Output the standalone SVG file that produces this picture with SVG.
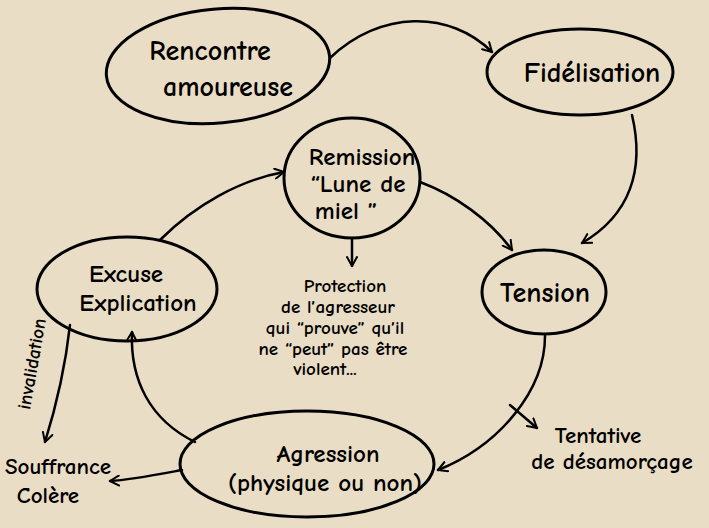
<svg xmlns="http://www.w3.org/2000/svg" width="709" height="528" viewBox="0 0 709 528">
<defs>
<marker id="ah" viewBox="0 0 12 12" refX="10" refY="6" markerWidth="12" markerHeight="12" markerUnits="userSpaceOnUse" orient="auto">
<path d="M1,1 L10,6 L1,11" fill="none" stroke="#000" stroke-width="2" stroke-linecap="round" stroke-linejoin="round"/>
</marker>
<style>
.n{fill:none;stroke:#000;stroke-width:3}
.c{fill:none;stroke:#000;stroke-width:2.5;stroke-linecap:round;marker-end:url(#ah)}
text{font-family:"Comic Neue","Liberation Sans","DejaVu Sans",sans-serif;fill:#000;text-anchor:middle;font-weight:bold}
.l{font-size:28px}
.m{font-size:25px}
.s{font-size:19px}
.t{font-size:23px}
</style>
</defs>
<rect width="709" height="528" fill="#e9ddc5"/>
<g id="connectors">
<path class="c" d="M330,58 C380,10 450,10 492,52"/>
<path class="c" d="M632,115 C645,170 630,215 582,243"/>
<path class="c" d="M420,182 C455,195 490,220 512,250"/>
<path class="c" d="M545,336 C545,390 500,445 438,470"/>
<path class="c" d="M510,405 L537,428"/>
<path class="c" d="M195,442 C150,420 130,380 132,332"/>
<path class="c" d="M160,240 C195,205 240,180 284,172"/>
<path class="c" d="M352,238 L352,266"/>
<path class="c" d="M70,325 C65,370 55,410 45,442"/>
<path class="c" d="M182,470 C150,476 130,480 110,481"/>
</g>
<g id="rencontre">
<ellipse class="n" cx="218" cy="66" rx="112" ry="57" transform="rotate(-5 218 66)"/>
<text class="l" x="210" y="60">Rencontre</text>
<text class="l" x="228" y="96">amoureuse</text>
</g>
<g id="fidelisation">
<ellipse class="n" cx="580" cy="72" rx="93" ry="43"/>
<text class="l" x="592" y="82">Fidélisation</text>
</g>
<g id="remission">
<ellipse class="n" cx="352" cy="178" rx="68" ry="60"/>
<text class="m" x="362" y="165">Remission</text>
<text class="m" x="358" y="192">“Lune de</text>
<text class="m" x="346" y="219">miel ”</text>
</g>
<g id="tension">
<ellipse class="n" cx="544" cy="292" rx="62" ry="42"/>
<text class="l" x="545" y="302">Tension</text>
</g>
<g id="excuse">
<ellipse class="n" cx="127" cy="289" rx="90" ry="52"/>
<text class="m" x="126" y="282">Excuse</text>
<text class="m" x="138" y="311">Explication</text>
</g>
<g id="agression">
<ellipse class="n" cx="307" cy="464" rx="127" ry="53"/>
<text class="m" x="328" y="462">Agression</text>
<text class="m" x="325" y="491">(physique ou non)</text>
</g>
<g id="protection">
<text class="s" x="345" y="292">Protection</text>
<text class="s" x="338" y="313">de l’agresseur</text>
<text class="s" x="335" y="334">qui “prouve” qu’il</text>
<text class="s" x="333" y="355">ne “peut” pas être</text>
<text class="s" x="325" y="375">violent...</text>
</g>
<g id="tentative">
<text class="t" x="598" y="443">Tentative</text>
<text class="t" x="612" y="469">de désamorçage</text>
</g>
<g id="souffrance">
<text class="t" x="58" y="474">Souffrance</text>
<text class="t" x="48" y="503">Colère</text>
</g>
<g id="invalidation">
<text transform="translate(38,365) rotate(-80)" style="font-size:19px">invalidation</text>
</g>
</svg>
